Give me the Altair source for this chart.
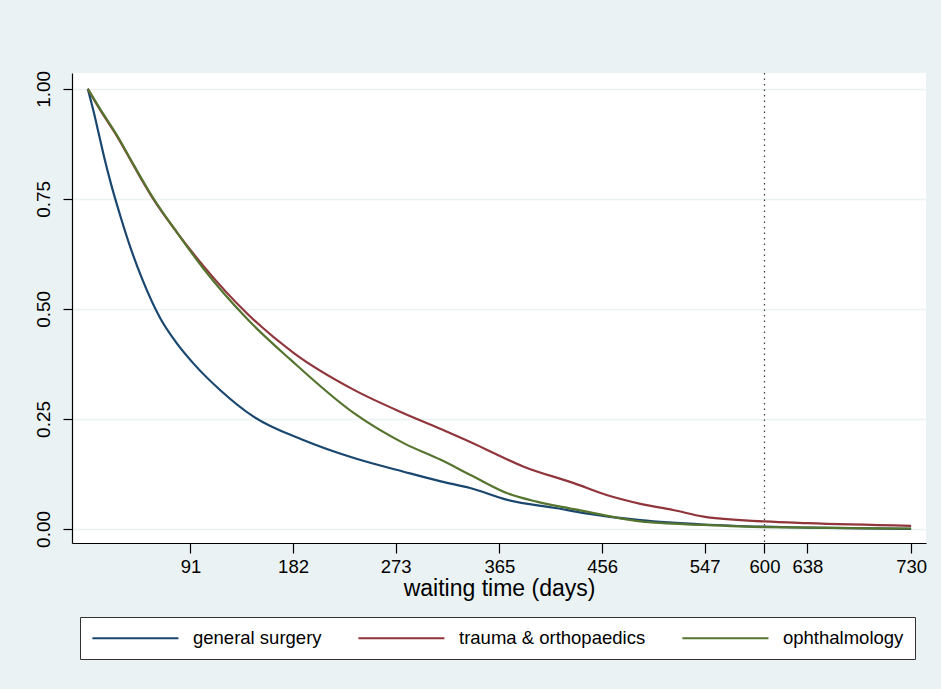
import altair as alt
import pandas as pd

# ---- data (Kaplan-Meier style survival curves) ----
groups = ["general surgery", "trauma & orthopaedics", "ophthalmology"]
colors = ["#1A476F", "#90353B", "#55752F"]

gs_days = [0, 5, 10, 14, 21, 29, 38, 49, 64, 78, 94, 118, 147, 191, 236, 280,
           313, 339, 372, 416, 440, 490, 546, 600, 638, 730]
gs_surv = [1.0, 0.95, 0.895, 0.85, 0.78, 0.71, 0.638, 0.563, 0.48, 0.425,
           0.375, 0.314, 0.255, 0.202, 0.161, 0.130, 0.108, 0.093, 0.066, 0.047,
           0.036, 0.020, 0.010, 0.005, 0.003, 0.0]

to_days = [0, 11, 26, 41, 58, 79, 103, 141, 183, 236, 280, 313, 348, 357, 386,
           431, 460, 490, 519, 546, 600, 638, 730]
to_surv = [1.0, 0.952, 0.892, 0.824, 0.75, 0.674, 0.596, 0.49, 0.399, 0.316,
           0.263, 0.227, 0.187, 0.176, 0.142, 0.104, 0.077, 0.057, 0.043, 0.028,
           0.017, 0.013, 0.007]

op_days = [0, 11, 26, 41, 58, 79, 103, 141, 180, 236, 280, 313, 342, 372, 398,
           431, 490, 546, 600, 730]
op_surv = [1.0, 0.954, 0.894, 0.826, 0.752, 0.674, 0.590, 0.478, 0.384, 0.263,
           0.195, 0.157, 0.119, 0.081, 0.062, 0.045, 0.017, 0.009, 0.004, 0.001]

x_ticks = [91, 182, 273, 365, 456, 547, 600, 638, 730]
y_ticks = [0.0, 0.25, 0.5, 0.75, 1.0]
marker_day = [600]

rows = []
for name, dd, ss in zip(groups, [gs_days, to_days, op_days], [gs_surv, to_surv, op_surv]):
    for d, s in zip(dd, ss):
        rows.append({"group": name, "days": d, "survival": s})
df = pd.DataFrame(rows)

FONT = "Liberation Sans"
xscale = alt.Scale(domain=[-14, 743.2], nice=False, zero=False)
yscale = alt.Scale(domain=[-0.032, 1.036], nice=False, zero=False)

lines = alt.Chart(df).mark_line(strokeWidth=2.2, interpolate="monotone").encode(
    x=alt.X("days:Q", scale=xscale,
            axis=alt.Axis(values=x_ticks, title="waiting time (days)", grid=False,
                          domainColor="#000000", domainWidth=1.2, tickColor="#000000",
                          tickWidth=1.2, tickSize=10, labelFont=FONT, labelFontSize=18.5,
                          labelColor="#000000", labelPadding=4, labelFlush=False,
                          labelOverlap=False, titleFont=FONT, titleFontSize=23,
                          titleFontWeight="normal", titleColor="#000000", titlePadding=2)),
    y=alt.Y("survival:Q", scale=yscale,
            axis=alt.Axis(values=y_ticks, format=".2f", title=None, grid=True,
                          gridColor="#EAF2F3", gridWidth=1.5,
                          domainColor="#000000", domainWidth=1.2, tickColor="#000000",
                          tickWidth=1.2, tickSize=9, labelFont=FONT, labelFontSize=19,
                          labelColor="#000000", labelAngle=270, labelAlign="center",
                          labelBaseline="middle", labelPadding=20, labelFlush=False,
                          labelOverlap=False)),
    color=alt.Color("group:N", sort=groups,
                    scale=alt.Scale(domain=groups, range=colors),
                    legend=alt.Legend(title=None, orient="none", legendX=8, legendY=544,
                                      direction="horizontal", fillColor="white",
                                      strokeColor="#333333", padding=11,
                                      symbolType="M-1,0H9", symbolSize=296,
                                      symbolStrokeWidth=2.2, labelFont=FONT,
                                      labelFontSize=18.5, labelColor="#000000",
                                      labelOffset=82, labelLimit=400,
                                      columnPadding=31)),
)

rule = alt.Chart(pd.DataFrame({"days": marker_day})).mark_rule(
    strokeDash=[1.5, 4], color="#444444", strokeWidth=1.3
).encode(x=alt.X("days:Q", scale=xscale))

chart = alt.layer(lines, rule).properties(
    width=854, height=470, background="#EAF2F3",
    padding={"left": 72, "top": 73, "right": 15, "bottom": 146},
    autosize="none",
).configure_view(fill="white", stroke=None)

chart.save("out.html", embed_options={"renderer": "svg", "actions": False})
